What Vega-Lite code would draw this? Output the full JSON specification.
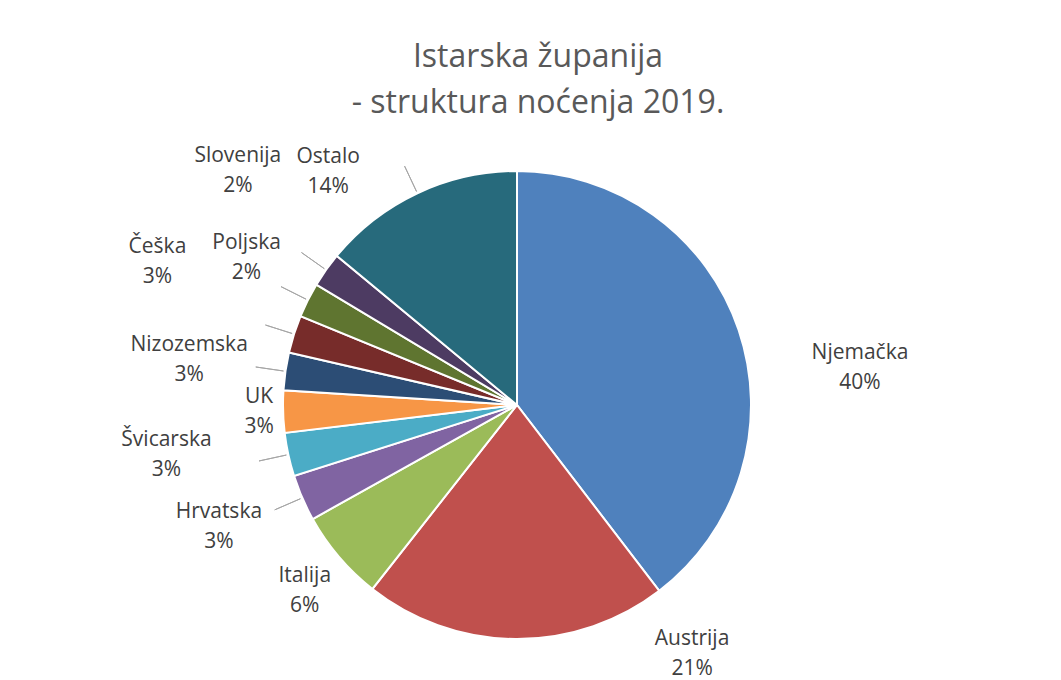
{
  "$schema": "https://vega.github.io/schema/vega-lite/v6.json",
  "width": 1034,
  "height": 550,
  "autosize": "none",
  "padding": {"left": 0, "top": 130, "right": 27, "bottom": 0},
  "background": "white",
  "config": {"view": {"stroke": null}},
  "title": {
    "text": ["Istarska županija", "- struktura noćenja 2019."],
    "font": "Open Sans",
    "fontSize": 32,
    "fontWeight": "normal",
    "color": "#595959",
    "lineHeight": 46,
    "anchor": "middle",
    "dx": 21,
    "offset": 10
  },
  "data": {
    "values": [
      {"i": 0, "name": "Njemačka", "share": 0.396},
      {"i": 1, "name": "Austrija", "share": 0.210},
      {"i": 2, "name": "Italija", "share": 0.063},
      {"i": 3, "name": "Hrvatska", "share": 0.032},
      {"i": 4, "name": "Švicarska", "share": 0.030},
      {"i": 5, "name": "UK", "share": 0.029},
      {"i": 6, "name": "Nizozemska", "share": 0.026},
      {"i": 7, "name": "Češka", "share": 0.026},
      {"i": 8, "name": "Poljska", "share": 0.024},
      {"i": 9, "name": "Slovenija", "share": 0.024},
      {"i": 10, "name": "Ostalo", "share": 0.140}
    ]
  },
  "encoding": {
    "theta": {"field": "share", "type": "quantitative", "stack": true},
    "order": {"field": "i", "type": "quantitative"}
  },
  "layer": [
    {
      "mark": {"type": "arc", "outerRadius": 234, "stroke": "white", "strokeWidth": 2},
      "encoding": {
        "color": {
          "field": "name",
          "type": "nominal",
          "legend": null,
          "scale": {
            "domain": ["Njemačka", "Austrija", "Italija", "Hrvatska", "Švicarska", "UK", "Nizozemska", "Češka", "Poljska", "Slovenija", "Ostalo"],
            "range": ["#4F81BD", "#C0504D", "#9BBB59", "#8064A2", "#4BACC6", "#F79646", "#2C4D75", "#772C2A", "#5F7530", "#4D3B62", "#276A7C"]
          }
        }
      }
    },
    {
      "mark": {"type": "arc", "innerRadius": 236, "outerRadius": 264, "padAngle": 3, "filled": false, "stroke": "#a6a6a6", "strokeWidth": 1},
      "encoding": {
        "strokeOpacity": {
          "condition": {"test": "datum.name === 'Austrija' || datum.name === 'Italija' || datum.name === 'UK' || datum.name === 'Njemačka'", "value": 0},
          "value": 1
        }
      }
    },
    {
      "mark": {
        "type": "text",
        "font": "Open Sans",
        "fontSize": 21,
        "fill": "#404040",
        "align": "center",
        "baseline": "middle",
        "dy": -15,
        "radius": {"expr": "[345,304,282,322,354,258,331,387,308,364,300][datum.i]"},
        "thetaOffset": {"expr": "[0.218,-0.620,-0.012,0.021,0.073,0,-0.007,0.071,0.034,0.081,-0.241][datum.i]"}
      },
      "encoding": {"text": {"field": "name", "type": "nominal"}}
    },
    {
      "mark": {
        "type": "text",
        "font": "Open Sans",
        "fontSize": 21,
        "fill": "#404040",
        "align": "center",
        "baseline": "middle",
        "dy": 15,
        "radius": {"expr": "[345,304,282,322,354,258,331,387,308,364,300][datum.i]"},
        "thetaOffset": {"expr": "[0.218,-0.620,-0.012,0.021,0.073,0,-0.007,0.071,0.034,0.081,-0.241][datum.i]"}
      },
      "encoding": {"text": {"field": "share", "type": "quantitative", "format": ".0%"}}
    }
  ]
}
